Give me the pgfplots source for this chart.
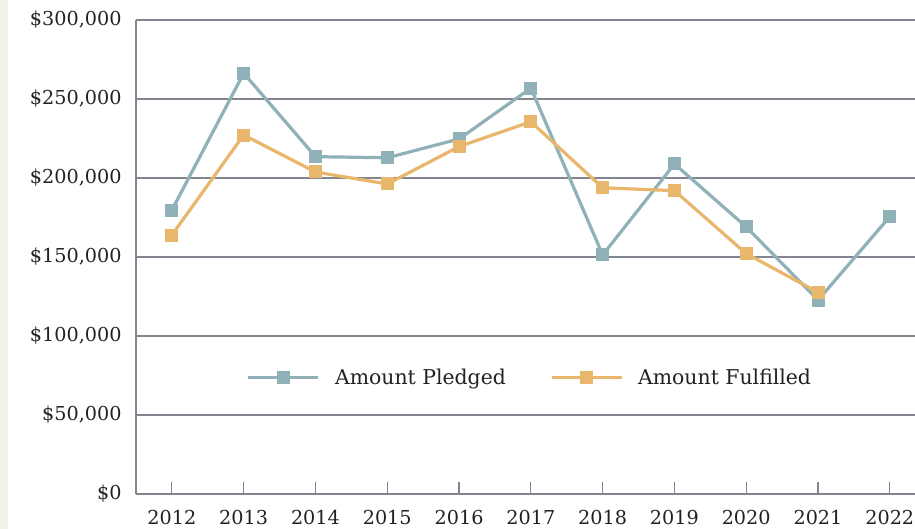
\documentclass[border=0pt]{standalone}
\usepackage{fontspec}
\setmainfont{DejaVu Serif}
\usepackage{pgfplots}
\pgfplotsset{compat=1.18}

\definecolor{pledged}{HTML}{90B1B8}
\definecolor{fulfilled}{HTML}{E8B76C}
\definecolor{gridc}{HTML}{80858E}
\definecolor{txt}{HTML}{222222}
\definecolor{strip}{HTML}{F2F2EA}

\begin{document}
\begin{tikzpicture}
\begin{axis}[
    scale only axis,
    width=389.5pt, height=237pt,
    xmin=2011.5, xmax=2022.35,
    ymin=0, ymax=300000,
    axis x line=bottom, axis y line=left,
    axis line style={gridc, line width=0.75pt, -},
    xtick={2012,...,2022},
    xticklabels={\raisebox{-1pt}{2012},\raisebox{-0.5pt}{2013},\raisebox{-1.5pt}{2014},\raisebox{-0.5pt}{2015},2016,2017,\raisebox{-1pt}{2018},2019,\raisebox{-1.5pt}{2020},2021,\raisebox{-1pt}{2022}},
    ytick={0,50000,...,300000},
    scaled y ticks=false,
    yticklabel={\$\pgfmathprintnumber{\tick}},
    /pgf/number format/.cd, fixed, 1000 sep={,}, assume math mode=true,
    /pgfplots/.cd,
    tick align=inside,
    major tick length=6pt,
    tick style={gridc, line width=0.6pt},
    ymajorgrids=true,
    grid style={gridc, line width=0.75pt},
    ticklabel style={font=\fontsize{9.6}{11}\selectfont, text=txt, inner sep=0pt},
    yticklabel style={xshift=-7pt},
    xticklabel style={yshift=-8pt},
    legend style={
        draw=none, fill=none,
        at={(rel axis cs:0.507,0.245)}, anchor=center,
        font=\fontsize{10.2}{11}\selectfont, text=txt,
        legend columns=2,
        /tikz/every odd column/.append style={column sep=5.5pt},
        /tikz/every even column/.append style={column sep=20pt},
        inner sep=0pt,
    },
    legend cell align=left,
    legend image code/.code={
        \draw[#1, mark repeat=2, mark phase=2] plot coordinates {(0pt,0pt)(17.5pt,0pt)(35pt,0pt)};
    },
    every axis plot/.append style={line width=1.6pt, mark=square*, mark size=3pt},
]
\addplot[color=pledged, mark options={solid, fill=pledged, draw=pledged, line width=0pt}] coordinates {
    (2012,179700)(2013,266300)(2014,213500)(2015,212800)(2016,224700)(2017,256900)
    (2018,151300)(2019,208900)(2020,169000)(2021,122700)(2022,175600)};
\addlegendentry{Amount Pledged}
\addplot[color=fulfilled, mark options={solid, fill=fulfilled, draw=fulfilled, line width=0pt}] coordinates {
    (2012,163900)(2013,227200)(2014,203800)(2015,196200)(2016,219900)(2017,235600)
    (2018,193800)(2019,192000)(2020,152100)(2021,127600)};
\addlegendentry{Amount Fulfilled}
\end{axis}
\pgfresetboundingbox
\fill[strip] (-68pt,-17.5pt) rectangle (-64pt,247pt);
\path[use as bounding box] (-68pt,-17.5pt) rectangle (389.5pt,247pt);
\end{tikzpicture}
\end{document}
